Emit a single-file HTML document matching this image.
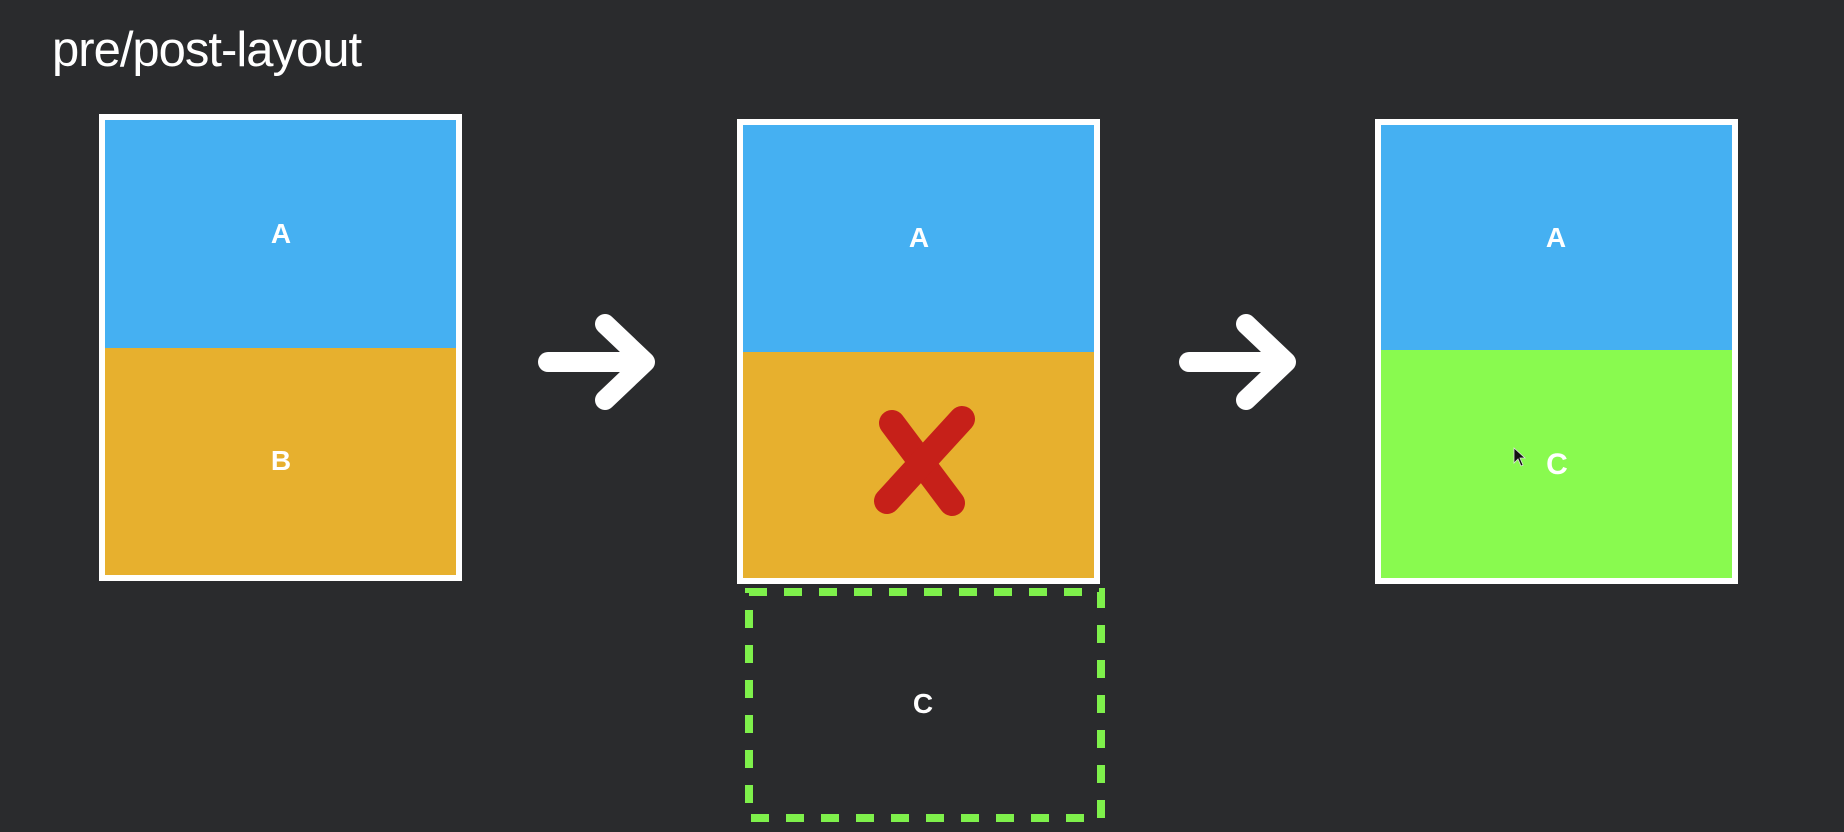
<!DOCTYPE html>
<html><head><style>
html,body{margin:0;padding:0}
body{width:1844px;height:832px;background:#2a2b2d;position:relative;overflow:hidden;font-family:"Liberation Sans",sans-serif}
.t{position:absolute;left:52px;top:22px;color:#fff;font-size:49px;font-weight:300;letter-spacing:-1px}
.box{position:absolute;background:#fff;width:363px;height:466px}
.in{position:absolute;left:6px;top:6px;right:6px;bottom:6px}
.h{position:absolute;left:0;right:0}
.l{position:absolute;color:#fff;font-weight:bold;font-size:28px;transform:translate(-50%,-50%)}
</style></head><body>
<div class="t">pre/post-layout</div>

<div class="box" style="left:99px;top:114px;height:467px">
 <div class="in">
  <div class="h" style="top:0;height:228px;background:#45b0f2"></div>
  <div class="h" style="top:228px;bottom:0;background:#e7b02e"></div>
 </div>
</div>
<div class="l" style="left:281px;top:234px">A</div>
<div class="l" style="left:281px;top:461px">B</div>

<div class="box" style="left:737px;top:119px;height:465px">
 <div class="in">
  <div class="h" style="top:0;height:227px;background:#45b0f2"></div>
  <div class="h" style="top:227px;bottom:0;background:#e7b02e"></div>
 </div>
</div>
<div class="l" style="left:919px;top:238px">A</div>
<svg style="position:absolute;left:870px;top:405px" width="110" height="115">
 <line x1="22" y1="18" x2="82" y2="98" stroke="#c62019" stroke-width="26" stroke-linecap="round"/>
 <line x1="92" y1="14" x2="17" y2="96" stroke="#c62019" stroke-width="26" stroke-linecap="round"/>
</svg>

<svg style="position:absolute;left:740px;top:584px" width="370" height="242">
 <rect x="9" y="8" width="352" height="226" fill="none" stroke="#7ef04b" stroke-width="8" stroke-dasharray="18 17"/>
</svg>
<div class="l" style="left:923px;top:704px">C</div>

<div class="box" style="left:1375px;top:119px;height:465px">
 <div class="in">
  <div class="h" style="top:0;height:225px;background:#45b0f2"></div>
  <div class="h" style="top:225px;bottom:0;background:#89fa4f"></div>
 </div>
</div>
<div class="l" style="left:1556px;top:238px">A</div>
<div class="l" style="left:1557px;top:465px;font-size:30px">C</div>
<svg style="position:absolute;left:1512px;top:447px" width="16" height="22"><path d="M2 1 L2 16 L6 12 L9 19 L11 18 L8 11 L13 11 Z" fill="#111" stroke="#ddd" stroke-width="0.8"/></svg>

<svg style="position:absolute;left:530px;top:310px" width="140" height="105">
 <g stroke="#fff" stroke-width="20" stroke-linecap="round" stroke-linejoin="round" fill="none">
  <line x1="18" y1="52" x2="112" y2="52"/><polyline points="75,14 115,52 75,90"/>
 </g>
</svg>
<svg style="position:absolute;left:1171px;top:310px" width="140" height="105">
 <g stroke="#fff" stroke-width="20" stroke-linecap="round" stroke-linejoin="round" fill="none">
  <line x1="18" y1="52" x2="112" y2="52"/><polyline points="75,14 115,52 75,90"/>
 </g>
</svg>
</body></html>
